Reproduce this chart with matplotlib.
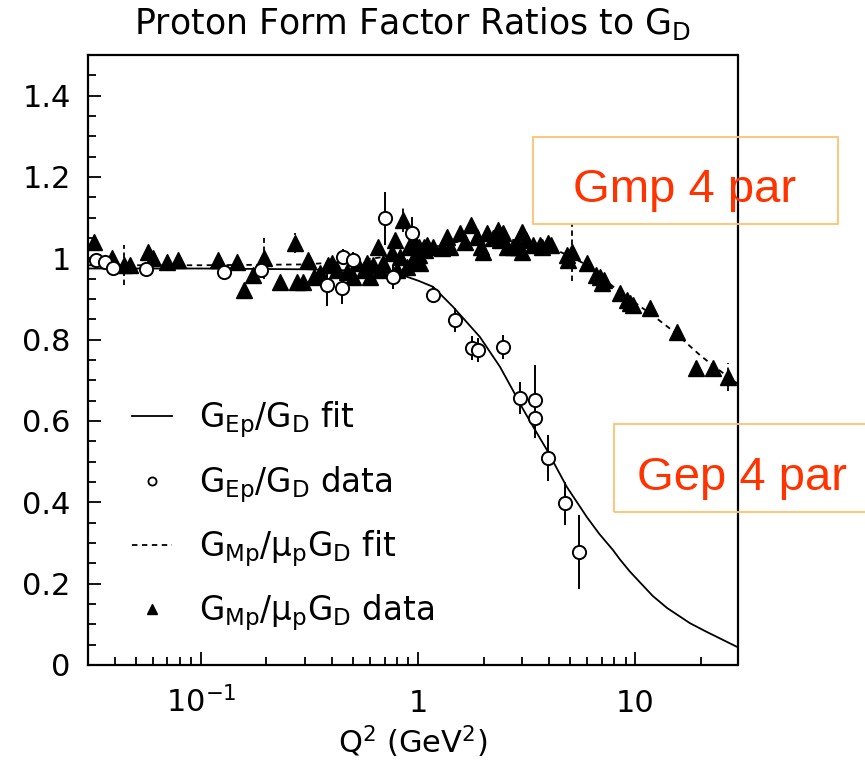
import numpy as np
import matplotlib
matplotlib.use('Agg')
import matplotlib.pyplot as plt
from matplotlib.ticker import MultipleLocator, LogLocator, NullFormatter
from matplotlib.patches import Rectangle
from matplotlib.lines import Line2D

# fit curves
ge_fit_q2 = [0.03, 0.1, 0.3, 0.5, 0.8, 1.0, 1.17, 1.45, 1.92, 2.38, 2.73, 3.03, 3.45,
             3.91, 4.83, 5.97, 6.8, 7.87, 8.5, 9.42, 10.5, 12.0, 14.0, 17.8, 21.0, 25.0, 29.5]
ge_fit = [0.975, 0.975, 0.973, 0.970, 0.963, 0.945, 0.93, 0.88, 0.807, 0.733, 0.675, 0.630, 0.578,
          0.529, 0.438, 0.364, 0.323, 0.283, 0.259, 0.230, 0.203, 0.170, 0.140, 0.103, 0.083, 0.063, 0.044]

gm_fit_q2 = [0.03, 0.1, 0.3, 0.5, 0.8, 1.0, 1.5, 2.0, 3.0, 4.0, 5.0, 6.0,
             8.0, 10.0, 12.0, 15.0, 20.0, 25.0, 29.5]
gm_fit = [0.983, 0.983, 0.985, 0.993, 1.008, 1.02, 1.04, 1.047, 1.045, 1.028, 1.005, 0.983,
          0.928, 0.89, 0.86, 0.82, 0.76, 0.72, 0.692]

# GEp/GD data (open circles)
ge_q2 = [0.033, 0.036, 0.0395, 0.0555, 0.127, 0.188, 0.38, 0.447, 0.452, 0.502, 0.703, 0.765,
         0.937, 1.17, 1.48, 1.77, 1.89, 2.45, 2.94, 3.44, 3.44, 3.96, 4.73, 5.5]
ge_val = [0.995, 0.99, 0.976, 0.974, 0.966, 0.971, 0.934, 0.927, 1.003, 0.996, 1.099, 0.954,
          1.062, 0.91, 0.848, 0.779, 0.775, 0.782, 0.656, 0.652, 0.607, 0.509, 0.398, 0.278]
ge_err = [0.01, 0.01, 0.01, 0.01, 0.01, 0.01, 0.05, 0.04, 0.02, 0.02, 0.065, 0.03,
          0.04, 0.02, 0.03, 0.03, 0.03, 0.03, 0.04, 0.085, 0.05, 0.057, 0.053, 0.09]

# GMp/mu_p GD data (filled triangles)
gm_q2 = [0.032, 0.039, 0.044, 0.047, 0.0568, 0.06, 0.070, 0.0787, 0.12, 0.147,
         0.157, 0.174, 0.194, 0.232, 0.272, 0.277, 0.296, 0.312, 0.33, 0.354,
         0.385, 0.4, 0.423, 0.47, 0.5, 0.525, 0.56, 0.58, 0.6, 0.62,
         0.65, 0.67, 0.69, 0.76, 0.78, 0.8, 0.82, 0.85, 0.89, 0.91,
         0.95, 0.97, 0.99, 1.01, 1.01, 1.02, 1.06, 1.07, 1.1, 1.17,
         1.29, 1.36, 1.40, 1.56, 1.65, 1.74, 1.86, 1.95, 1.99, 2.07,
         2.2, 2.33, 2.38, 2.45, 2.56, 2.73, 2.85, 2.87, 3.0, 3.0,
         3.15, 3.37, 3.63, 3.7, 3.96, 4.1, 4.83, 4.9, 5.1, 5.97,
         6.6, 6.86, 7.0, 7.2, 8.47, 9.1, 9.42, 9.7, 11.7, 15.5,
         19.1, 22.7, 26.6]
gm_val = [1.04, 1.0, 0.984, 0.984, 1.015, 1.0, 0.99, 0.996, 0.996, 0.99,
          0.922, 0.959, 1.0, 0.942, 1.037, 0.942, 0.942, 0.996, 0.954, 0.964,
          0.984, 0.988, 0.971, 0.966, 0.954, 0.988, 0.971, 0.988, 0.954, 0.984,
          1.028, 0.971, 0.988, 1.013, 1.045, 0.971, 1.003, 1.094, 0.979, 1.028,
          0.996, 1.038, 1.015, 1.028, 1.008, 0.988, 1.028, 1.02, 1.033, 1.028,
          1.025, 1.052, 1.028, 1.062, 1.04, 1.082, 1.052, 1.028, 1.015, 1.062,
          1.05, 1.07, 1.045, 1.062, 1.028, 1.028, 1.038, 1.028, 1.065, 1.015,
          1.045, 1.033, 1.033, 1.028, 1.038, 1.033, 1.008, 0.996, 1.015, 0.988,
          0.959, 0.954, 0.94, 0.947, 0.915, 0.897, 0.89, 0.885, 0.878, 0.819,
          0.73, 0.73, 0.708]
gm_err = [0.02, 0.015, 0.05, 0.015, 0.015, 0.015, 0.015, 0.015, 0.015, 0.015,
          0.015, 0.015, 0.05, 0.015, 0.025, 0.015, 0.015, 0.015, 0.015, 0.015,
          0.015, 0.015, 0.015, 0.015, 0.015, 0.015, 0.015, 0.015, 0.015, 0.015,
          0.015, 0.015, 0.015, 0.015, 0.015, 0.015, 0.015, 0.03, 0.015, 0.015,
          0.015, 0.015, 0.015, 0.015, 0.015, 0.015, 0.015, 0.015, 0.015, 0.015,
          0.015, 0.015, 0.015, 0.015, 0.015, 0.015, 0.015, 0.015, 0.015, 0.015,
          0.015, 0.015, 0.015, 0.015, 0.015, 0.015, 0.015, 0.015, 0.015, 0.015,
          0.015, 0.015, 0.015, 0.015, 0.015, 0.015, 0.015, 0.015, 0.07, 0.015,
          0.015, 0.015, 0.015, 0.015, 0.015, 0.015, 0.015, 0.015, 0.015, 0.015,
          0.02, 0.015, 0.035]

xtick_vals = [0.1, 1, 10]
xtick_labels = [r'$10^{-1}$', '1', '10']
ytick_vals = [0, 0.2, 0.4, 0.6, 0.8, 1.0, 1.2, 1.4]
ytick_labels = ['0', '0.2', '0.4', '0.6', '0.8', '1', '1.2', '1.4']

legend_labels = [r'$G_{Ep}/G_D$ fit', r'$G_{Ep}/G_D$ data',
                 r'$G_{Mp}/\mu_pG_D$ fit', r'$G_{Mp}/\mu_pG_D$ data']

plt.rcParams['font.family'] = 'DejaVu Sans'
plt.rcParams['mathtext.default'] = 'regular'

fig = plt.figure(figsize=(8.65, 7.62), dpi=100)
ax = fig.add_axes([87.5/865, 97/762, 650/865, 610/762])

ax.plot(ge_fit_q2, ge_fit, '-', color='k', lw=1.3)
ax.plot(gm_fit_q2, gm_fit, color='k', lw=1.3, dashes=(3, 2.5))

eb = ax.errorbar(gm_q2, gm_val, yerr=gm_err, fmt='^', color='k', ms=11.5,
                 elinewidth=1.3, capsize=0)
eb[2][0].set_linestyle((0, (3, 2)))
ax.errorbar(ge_q2, ge_val, yerr=ge_err, fmt='o', mfc='white', mec='k', mew=1.4,
            ms=9.5, ecolor='k', elinewidth=1.4, capsize=0)

ax.set_xscale('log')
ax.set_xlim(0.03, 29.5)
ax.set_ylim(0, 1.5)
ax.set_xticks(xtick_vals)
ax.set_xticklabels(xtick_labels)
ax.xaxis.set_minor_locator(LogLocator(base=10, subs=np.arange(2, 10) * 1.0, numticks=20))
ax.xaxis.set_minor_formatter(NullFormatter())
ax.set_yticks(ytick_vals)
ax.set_yticklabels(ytick_labels)
ax.yaxis.set_minor_locator(MultipleLocator(0.05))

ax.tick_params(which='both', direction='in', top=False, right=False, width=1.3)
ax.tick_params(which='major', length=9.5)
ax.tick_params(which='minor', length=5.5)
ax.tick_params(axis='y', labelsize=22, pad=12)
ax.tick_params(axis='x', labelsize=22, pad=34)
for lab in ax.get_xticklabels():
    lab.set_verticalalignment('baseline')
for s in ax.spines.values():
    s.set_linewidth(1.6)

ax.set_title(r'Proton Form Factor Ratios to $G_D$', fontsize=25, pad=15)
ax.set_xlabel(r'$Q^2$ (GeV$^2$)', fontsize=22, labelpad=4)

handles = [Line2D([], [], color='k', lw=1.3),
           Line2D([], [], ls='', marker='o', mfc='white', mec='k', mew=1.3, ms=9),
           Line2D([], [], color='k', lw=1.3, dashes=(3, 2.5)),
           Line2D([], [], ls='', marker='^', color='k', ms=11.5)]
ax.legend(handles, legend_labels, loc='upper left', bbox_to_anchor=(0.068, 0.435),
          frameon=False, fontsize=23.5, handlelength=1.25, handletextpad=0.8,
          labelspacing=0.72, markerscale=0.65, borderpad=0, borderaxespad=0)

# red annotation boxes
fig.add_artist(Rectangle((533/865, 1 - 224/762), 305/865, 87/762, transform=fig.transFigure,
                         fill=False, ec='#FFC070', lw=1.3))
fig.text(685/865, 1 - 202/762, 'Gmp 4 par', color='#FF3300', fontsize=34,
         family='Liberation Sans', ha='center', va='baseline')
fig.add_artist(Rectangle((614/865, 1 - 512/762), 260/865, 88/762, transform=fig.transFigure,
                         fill=False, ec='#FFC070', lw=1.3))
fig.text(742/865, 1 - 490/762, 'Gep 4 par', color='#FF3300', fontsize=34,
         family='Liberation Sans', ha='center', va='baseline')

fig.savefig('out.png', dpi=100)
